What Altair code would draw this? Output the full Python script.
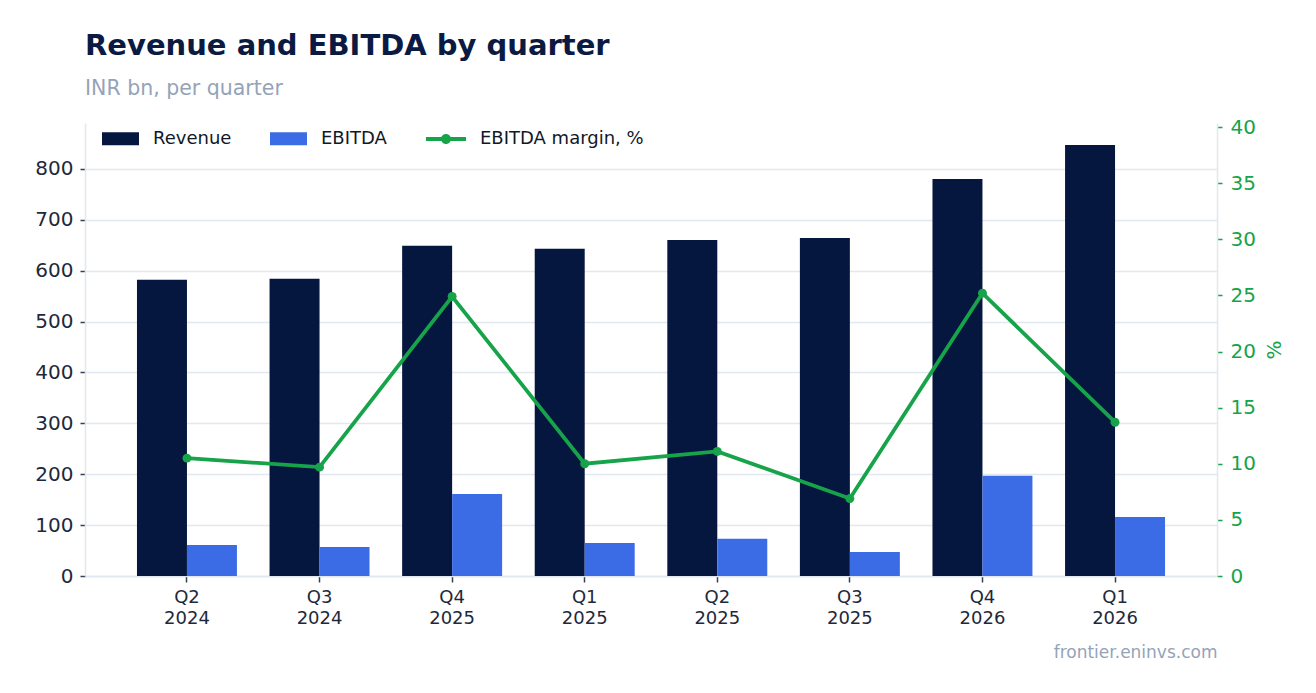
import altair as alt
import pandas as pd

quarters = ["Q2 2024", "Q3 2024", "Q4 2025", "Q1 2025", "Q2 2025", "Q3 2025", "Q4 2026", "Q1 2026"]
revenue = [582, 584, 649, 643, 660, 664, 780, 847]
ebitda = [61, 57, 161, 65, 73, 47, 197, 116]
margin = [10.5, 9.7, 24.9, 10.0, 11.1, 6.9, 25.2, 13.7]

series_names = ["Revenue", "EBITDA"]
bar_colors = ["#05163f", "#3b6ce6"]
line_name = "EBITDA margin, %"
green = "#16a34a"

rows = []
for q, r, e in zip(quarters, revenue, ebitda):
    rows.append({"quarter": q, "series": "Revenue", "value": r})
    rows.append({"quarter": q, "series": "EBITDA", "value": e})
bars_df = pd.DataFrame(rows)
line_df = pd.DataFrame({"quarter": quarters, "margin": margin, "series": [line_name] * len(quarters)})

FONT = "DejaVu Sans"
W, H = 1132, 453

x_enc = alt.X(
    "quarter:N",
    sort=quarters,
    scale=alt.Scale(paddingInner=0.246, paddingOuter=0.392),
    axis=alt.Axis(
        title="frontier.eninvs.com",
        titleX=W, titleY=76, titleAlign="right", titleBaseline="middle", titleAngle=0,
        titleColor="#94a3b8", titleFontSize=17, titleFontWeight="normal", titleFont=FONT,
        labelExpr="split(datum.label, ' ')",
        labelAngle=0, labelFontSize=18, labelColor="#1e293b", labelLineHeight=21,
        labelPadding=6, labelFont=FONT,
        tickSize=6, tickColor="#334155", tickWidth=1.5,
        domainColor="#e2e8f0", domainWidth=1.5, grid=False,
    ),
)

rect_path = "M-1,-0.35L1,-0.35L1,0.35L-1,0.35Z"
linept_path = ("M-1,-0.095L1,-0.095L1,0.095L-1,0.095Z "
               "M-0.25,0A0.25,0.25 0 1,1 0.25,0A0.25,0.25 0 1,1 -0.25,0Z")

bars = alt.Chart(bars_df).mark_bar().encode(
    x=x_enc,
    xOffset=alt.XOffset("series:N", sort=series_names,
                        scale=alt.Scale(domain=series_names, paddingInner=0, paddingOuter=0)),
    y=alt.Y("value:Q",
            scale=alt.Scale(domain=[0, 890], nice=False, zero=True),
            axis=alt.Axis(title=None, values=list(range(0, 801, 100)),
                          labelFontSize=20, labelColor="#1e293b", labelPadding=7, labelFont=FONT,
                          tickSize=5, tickColor="#334155", tickWidth=1.5,
                          domainColor="#e2e8f0", domainWidth=1.5,
                          grid=True, gridColor="#e2e8f0", gridWidth=1.5)),
    color=alt.Color("series:N", sort=series_names,
                    scale=alt.Scale(domain=series_names, range=bar_colors),
                    legend=alt.Legend(title=None, orient="none", legendX=17, legendY=-3,
                                      direction="horizontal", symbolType=rect_path,
                                      symbolSize=1369, symbolStrokeWidth=0,
                                      labelFontSize=18, labelColor="#111827", labelFont=FONT,
                                      labelLimit=0, labelOffset=14, columnPadding=38, padding=0)),
)

line = alt.Chart(line_df).mark_line(color=green, strokeWidth=3.8).encode(
    x=alt.X("quarter:N", sort=quarters),
    y=alt.Y("margin:Q",
            scale=alt.Scale(domain=[0, 40.36], nice=False, zero=True),
            axis=alt.Axis(title="%", orient="right", values=list(range(0, 41, 5)),
                          labelFontSize=20, labelColor=green, labelPadding=8, labelFont=FONT,
                          tickSize=5, tickColor=green, tickWidth=1.5,
                          domainColor="#e2e8f0", domainWidth=1.5, grid=False,
                          titleColor=green, titleFontSize=20, titleFontWeight="normal",
                          titleFont=FONT, titleAngle=-90, titleX=57, titleY=H / 2,
                          titleAlign="center", titleBaseline="middle")),
)

points = alt.Chart(line_df).mark_point(filled=True, size=80, opacity=1).encode(
    x=alt.X("quarter:N", sort=quarters),
    y=alt.Y("margin:Q"),
    fill=alt.Fill("series:N",
                  scale=alt.Scale(domain=[line_name], range=[green]),
                  legend=alt.Legend(title=None, orient="none", legendX=341, legendY=-4,
                                    direction="horizontal", symbolType=linept_path,
                                    symbolSize=1600, symbolStrokeWidth=0,
                                    labelFontSize=18, labelColor="#111827", labelFont=FONT,
                                    labelLimit=0, labelOffset=14, padding=0)),
)

chart = alt.layer(bars, line + points).resolve_scale(y="independent").properties(
    width=W,
    height=H,
    title=alt.TitleParams(
        text="Revenue and EBITDA by quarter",
        subtitle="INR bn, per quarter",
        anchor="start", frame="group", orient="top",
        font=FONT, fontSize=29, fontWeight="bold", color="#0a1a42",
        subtitleFont=FONT, subtitleFontSize=20.5, subtitleColor="#94a3b8",
        subtitlePadding=18, offset=18,
    ),
    autosize=alt.AutoSizeParams(type="none"),
    padding={"left": 77, "top": 115, "right": 85, "bottom": 100},
).configure(font=FONT, background="white").configure_view(stroke=None)

chart.save("out.html", embed_options={"renderer": "svg", "actions": False})
